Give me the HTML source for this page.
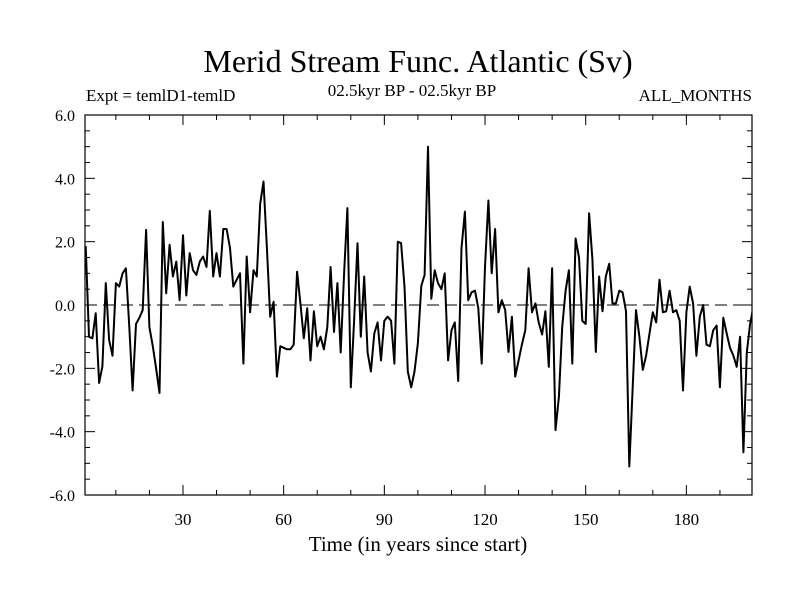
<!DOCTYPE html>
<html><head><meta charset="utf-8"><style>
body{margin:0;background:#fff;}
svg{display:block;font-family:"Liberation Serif",serif;}
</style></head><body>
<svg id="chart" width="800" height="600">
<defs><clipPath id="plotclip"><rect x="85" y="115" width="667" height="380"/></clipPath></defs>
<text x="418" y="72" font-size="32" text-anchor="middle">Merid Stream Func. Atlantic (Sv)</text>
<text x="86" y="101" font-size="17">Expt = temlD1-temlD</text>
<text x="412" y="96" font-size="17" text-anchor="middle">02.5kyr BP - 02.5kyr BP</text>
<text x="752" y="101" font-size="17" text-anchor="end">ALL_MONTHS</text>
<text x="418" y="551" font-size="21" text-anchor="middle">Time (in years since start)</text>
<g id="axes"></g>
<g id="series" clip-path="url(#plotclip)"></g>
</svg>
<script>
const values = [1.86,-1.0,-1.05,-0.26,-2.46,-1.94,0.69,-1.1,-1.6,0.69,0.58,1.0,1.16,-0.69,-2.7,-0.6,-0.4,-0.16,2.37,-0.7,-1.3,-2.0,-2.78,2.62,0.37,1.9,0.9,1.37,0.15,2.2,0.3,1.64,1.1,0.95,1.37,1.53,1.2,2.97,0.9,1.64,0.9,2.4,
2.4,1.8,0.58,0.8,1.0,-1.85,1.53,-0.23,1.1,0.9,3.2,3.9,1.8,-0.37,0.1,-2.26,-1.3,-1.35,-1.4,-1.4,-1.25,1.05,0.05,-1.05,-0.1,-1.75,-0.2,-1.3,-1.0,-1.4,-0.7,1.2,-0.85,0.69,-1.5,1.0,3.06,-2.6,
-0.5,1.95,-1.0,0.9,-1.5,-2.1,-0.9,-0.55,-1.75,-0.5,-0.37,-0.5,-1.85,2.0,1.95,0.58,-2.1,-2.6,-2.1,-1.2,0.6,0.95,5.0,0.2,1.1,0.69,0.5,1.0,-1.75,-0.8,-0.55,-2.4,1.8,2.95,0.15,0.4,0.45,-0.1,-1.85,1.2,3.3,
1.0,2.4,-0.23,0.15,-0.16,-1.48,-0.37,-2.26,-1.75,-1.25,-0.8,1.16,-0.23,0.05,-0.55,-0.93,-0.2,-1.95,1.16,-3.95,-2.9,-0.7,0.45,1.1,-1.85,2.1,1.5,-0.5,-0.6,2.9,1.45,-1.48,0.9,-0.2,0.9,1.3,0.05,0.05,0.45,0.4,
-0.2,-5.1,-2.6,-0.16,-1.0,-2.05,-1.6,-0.9,-0.23,-0.55,0.8,-0.23,-0.2,0.45,-0.23,-0.16,-0.5,-2.7,-0.23,0.58,0.05,-1.6,-0.37,0.0,-1.25,-1.3,-0.8,-0.65,-2.6,-0.4,-0.9,-1.35,-1.6,-1.95,-1.0,-4.65,-1.5,-0.6,-0.05,-0.95];
const xTicks = [30,60,90,120,150,180];
const yTicks = [-6,-4,-2,0,2,4,6];
const yTickLabels = ["-6.0","-4.0","-2.0","0.0","2.0","4.0","6.0"];

const L=85,R=752,T=115,B=495;
const xS = v => 82.3 + v*3.356;
const yS = v => 305 - v*31.667;
const NS="http://www.w3.org/2000/svg";
const axes=document.getElementById('axes');
function mk(tag,attrs,parent){const e=document.createElementNS(NS,tag);for(const k in attrs)e.setAttribute(k,attrs[k]);parent.appendChild(e);return e;}

const frame=mk('rect',{x:L,y:T,width:R-L,height:B-T,fill:'none',stroke:'#000','stroke-width':1.2},axes);



const zl=mk('line',{x1:L,x2:R,y1:yS(0),y2:yS(0),stroke:'#000','stroke-width':1,'stroke-dasharray':'12,6'},axes);



for(let v=-6;v<=6.001;v+=0.5){
  const major=Math.abs(v%2)<1e-6; const len=major?10:5;
  const y=yS(v);
  const t1=mk('line',{x1:L,x2:L+len,y1:y,y2:y,stroke:'#000'},axes);
  
  
  const t2=mk('line',{x1:R-len,x2:R,y1:y,y2:y,stroke:'#000'},axes);
  
  
}
yTicks.forEach((v,i)=>{
  const t=mk('text',{x:75,y:yS(v)+6,'font-size':16,'text-anchor':'end'},axes);
  t.textContent=yTickLabels[i];
  
  
});
for(let v=10;v<=199;v+=10){
  const major=v%30===0; const len=major?10:5; const x=xS(v);
  const t1=mk('line',{x1:x,x2:x,y1:B,y2:B-len,stroke:'#000'},axes);
  
  
  const t2=mk('line',{x1:x,x2:x,y1:T,y2:T+len,stroke:'#000'},axes);
  
  
}
xTicks.forEach(v=>{
  const t=mk('text',{x:xS(v),y:525,'font-size':17,'text-anchor':'middle'},axes);
  t.textContent=String(v);
  
  
});

const pts=values.map((v,i)=>xS(i+1).toFixed(1)+','+yS(v).toFixed(1)).join(' ');
const line=mk('polyline',{points:pts,fill:'none',stroke:'#000','stroke-width':2,'stroke-linejoin':'round'},document.getElementById('series'));


</script>
</body></html>
